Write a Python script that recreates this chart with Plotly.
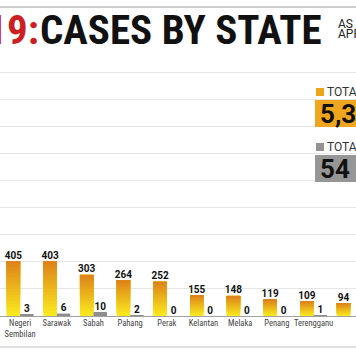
import plotly.graph_objects as go

# ---- data ----
states = ["Negeri<br>Sembilan", "Sarawak", "Sabah", "Pahang", "Perak",
          "Kelantan", "Melaka", "Penang", "Terengganu", "Kedah"]
total_cases = [405, 403, 303, 264, 252, 155, 148, 119, 109, 94]
grey_cases = [3, 6, 10, 2, 0, 0, 0, 0, 1, 0]

title_red = "COVID-19:"
title_black = "CASES BY STATE"
date_line1 = "AS AT"
date_line2 = "APRIL 18"
legend_orange = "TOTAL CASES"
legend_grey = "TOTAL ICU"
total_orange = "5,389"
total_grey = "54"

NARROW = "Liberation Sans Narrow, Roboto Condensed, Roboto"

# ---- geometry helpers ----
W, H = 356, 364
def px(x):
    return x / W
def py(y):
    return 1 - y / H

idx = list(range(len(states)))
bw = 0.368
half = bw / 2

fig = go.Figure()

# gradient orange bars built from overlapping slices (bottom yellow -> top orange)
K = 18
c_bot = (250, 233, 30)
c_top = (222, 132, 26)
for k in range(K):
    t = k / (K - 1)
    col = tuple(round(c_bot[j] + (c_top[j] - c_bot[j]) * t) for j in range(3))
    fig.add_trace(go.Bar(
        x=[i - half for i in idx],
        y=[v * (1 - k / K) for v in total_cases],
        base=[v * k / K for v in total_cases],
        width=bw,
        marker=dict(color="rgb(%d,%d,%d)" % col, line=dict(width=0)),
        hoverinfo="skip",
    ))

fig.add_trace(go.Bar(
    x=[i + half for i in idx], y=grey_cases, width=bw, yaxis="y2",
    marker=dict(color="#8e8e8e", line=dict(width=0)), hoverinfo="skip",
))

fig.add_trace(go.Scatter(
    x=[i - half for i in idx], y=total_cases, mode="text",
    text=[str(v) for v in total_cases], textposition="top center",
    textfont=dict(family="Roboto", size=10, color="#111", weight=700),
    cliponaxis=False, hoverinfo="skip",
))
fig.add_trace(go.Scatter(
    x=[i + half for i in idx], y=grey_cases, mode="text", yaxis="y2",
    text=[str(v) for v in grey_cases], textposition="top center",
    textfont=dict(family="Roboto", size=10, color="#111", weight=700),
    cliponaxis=False, hoverinfo="skip",
))

y_top = 256 / 0.1355

fig.update_layout(
    width=W, height=H, margin=dict(l=0, r=0, t=0, b=0),
    paper_bgcolor="white", plot_bgcolor="white",
    showlegend=False, barmode="overlay",
    xaxis=dict(range=[-0.548, 9.158], tickvals=idx, ticktext=states,
               tickangle=0,
               tickfont=dict(family=NARROW, size=8.5, color="#444"),
               showgrid=False, zeroline=False, showline=False, ticks="",
               automargin=False, fixedrange=True),
    yaxis=dict(domain=[1 - 316 / H, 1 - 60 / H], range=[0, y_top],
               tick0=0, dtick=200, showgrid=True, gridcolor="#e6e6e6",
               gridwidth=1, showticklabels=False, zeroline=True,
               zerolinecolor="#a0a0a0", zerolinewidth=1, automargin=False),
    yaxis2=dict(overlaying="y", range=[0, 256 / 0.4], visible=False,
                showgrid=False, zeroline=False),
)

shapes = [
    dict(type="line", xref="paper", yref="paper", x0=0, x1=1, y0=py(7), y1=py(7),
         line=dict(color="#cfcfcf", width=2)),
    dict(type="line", xref="paper", yref="paper", x0=0, x1=1, y0=py(347), y1=py(347),
         line=dict(color="#d4d4d4", width=1.5)),
    dict(type="rect", xref="paper", yref="paper", x0=px(316), x1=px(324),
         y0=py(96), y1=py(88), fillcolor="#eea51c", line=dict(width=0)),
    dict(type="rect", xref="paper", yref="paper", x0=px(315), x1=1.2,
         y0=py(127), y1=py(100), fillcolor="#f0a51e", line=dict(width=0)),
    dict(type="rect", xref="paper", yref="paper", x0=px(316), x1=px(324),
         y0=py(151), y1=py(143), fillcolor="#939393", line=dict(width=0)),
    dict(type="rect", xref="paper", yref="paper", x0=px(315), x1=1.2,
         y0=py(182), y1=py(155), fillcolor="#969696", line=dict(width=0)),
]
fig.update_layout(shapes=shapes)

ann = [
    dict(text=title_red, x=px(41), y=py(30), xanchor="right", yanchor="middle",
         font=dict(family=NARROW, size=41, color="#cc1f24", weight=700)),
    dict(text=title_black, x=px(38), y=py(30), xanchor="left", yanchor="middle",
         font=dict(family=NARROW, size=41, color="#111", weight=700)),
    dict(text=date_line1, x=px(336), y=py(24), xanchor="left", yanchor="middle",
         font=dict(family="Roboto", size=12, color="#222")),
    dict(text=date_line2, x=px(336), y=py(34), xanchor="left", yanchor="middle",
         font=dict(family="Roboto", size=12, color="#222")),
    dict(text=legend_orange, x=px(325), y=py(92), xanchor="left", yanchor="middle",
         font=dict(family="Roboto", size=12, color="#333")),
    dict(text=total_orange, x=px(318), y=py(114), xanchor="left", yanchor="middle",
         font=dict(family="Roboto", size=26, color="#111", weight=700)),
    dict(text=legend_grey, x=px(325), y=py(147), xanchor="left", yanchor="middle",
         font=dict(family="Roboto", size=12, color="#333")),
    dict(text=total_grey, x=px(318), y=py(169), xanchor="left", yanchor="middle",
         font=dict(family="Roboto", size=26, color="#111", weight=700)),
]
for a in ann:
    a.update(xref="paper", yref="paper", showarrow=False)
fig.update_layout(annotations=ann)

fig.write_html(
    "out.html",
    config={"displayModeBar": False},
    post_script="document.body.style.margin='0';document.body.style.padding='0';",
)
